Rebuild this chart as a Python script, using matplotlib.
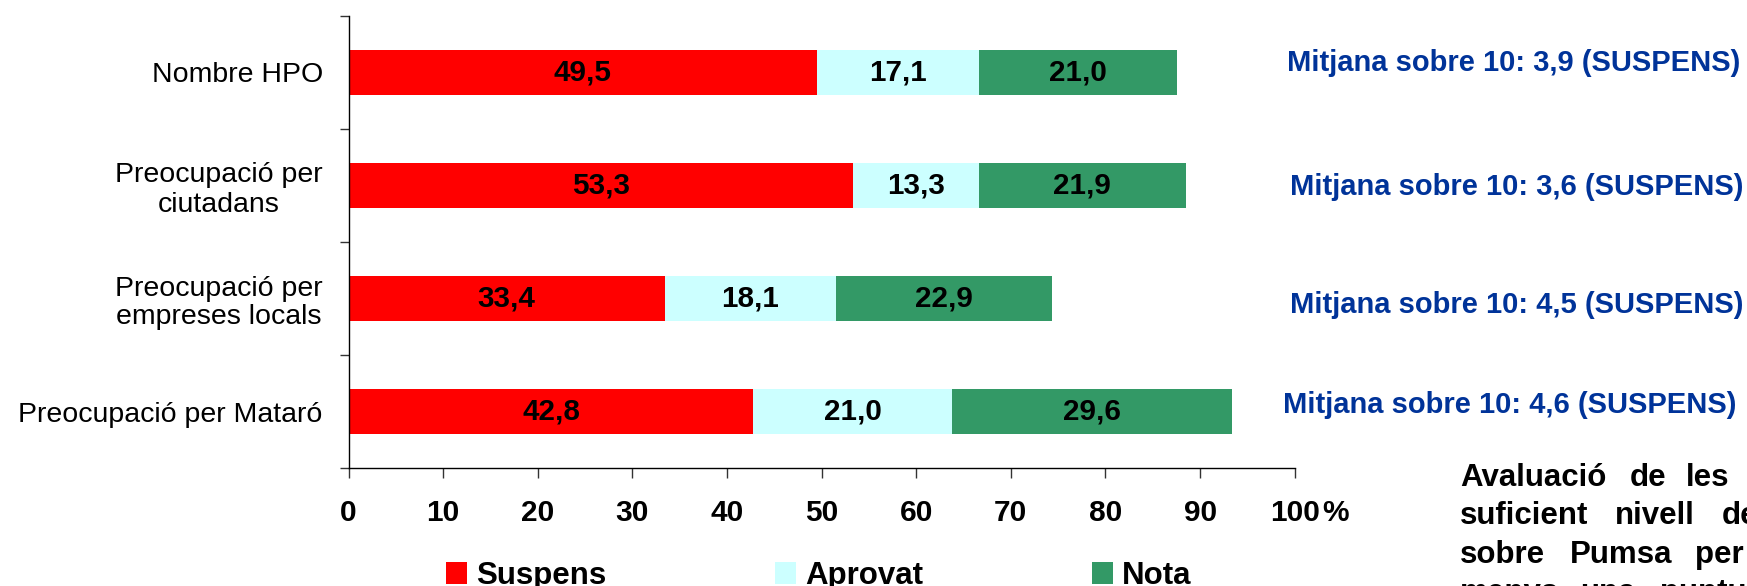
import numpy as np
import matplotlib
matplotlib.use("Agg")
import matplotlib.pyplot as plt

plt.rcParams['font.family'] = ['Liberation Sans', 'DejaVu Sans']

# --- data -------------------------------------------------------------
categories = ['Nombre HPO',
              'Preocupació per\nciutadans',
              'Preocupació per\nempreses locals',
              'Preocupació per Mataró']
suspens = [49.5, 53.3, 33.4, 42.8]
aprovat = [17.1, 13.3, 18.1, 21.0]
nota = [21.0, 21.9, 22.9, 29.6]
series_names = ['Suspens', 'Aprovat', 'Nota']
mitjana = ['3,9', '3,6', '4,5', '4,6']
x_ticks = [0, 10, 20, 30, 40, 50, 60, 70, 80, 90, 100]

note_lines = [['Avaluació', 'de', 'les'],
              ['suficient', 'nivell', 'de'],
              ['sobre', 'Pumsa', 'per'],
              ['menys', 'una', 'puntuació']]

# --- styling ------------------------------------------------------------
colors = ['#FF0000', '#CCFFFF', '#339966']
W, H = 1747, 586
BLUE = '#003399'
TICK_LEN = 7.2
TICK_PAD = 15.2
TICK_FS = 21.5


def fx(px):
    return px / W


def fy(py):
    return 1 - py / H


fig = plt.figure(figsize=(W / 100, H / 100), dpi=100)
ax = fig.add_axes([fx(348.5), fy(468), 946.2 / W, 452 / H])

y = np.arange(len(categories))
left = np.zeros(len(categories))
handles = []
for vals, color, name in zip([suspens, aprovat, nota], colors, series_names):
    vals = np.asarray(vals)
    bars = ax.barh(y, vals, left=left, height=0.4, color=color,
                   edgecolor='none', label=name)
    ax.bar_label(bars, labels=[f'{v:.1f}'.replace('.', ',') for v in vals],
                 label_type='center', fontsize=21.3, fontweight='bold',
                 color='black')
    handles.append(bars)
    left = left + vals

ax.set_xlim(0, 100)
ax.set_ylim(len(categories) - 0.5, -0.5)

ax.set_xticks(x_ticks)
ax.set_xticklabels([str(t) for t in x_ticks], fontsize=TICK_FS,
                   fontweight='bold')
ax.tick_params(axis='x', length=TICK_LEN, width=1, direction='out',
               pad=TICK_PAD, color='#333333')

ax.set_yticks(y)
ax.set_yticklabels(categories, fontsize=20.5, multialignment='center',
                   linespacing=1.15)
ax.set_yticks(np.arange(-0.5, len(categories)), minor=True)
ax.tick_params(axis='y', which='major', length=0, pad=18.5)
ax.tick_params(axis='y', which='minor', length=6.5, width=1, color='#333333')

for s in ['top', 'right']:
    ax.spines[s].set_visible(False)
for s in ['left', 'bottom']:
    ax.spines[s].set_color('black')
    ax.spines[s].set_linewidth(1.0)

# percent sign after the last tick label, on the tick-label line
trans, va, ha = ax.get_xaxis_text1_transform(TICK_PAD + TICK_LEN)
ax.text(102.9, 0, '%', transform=trans, va=va, ha='left',
        fontsize=TICK_FS, fontweight='bold')

# legend
leg = ax.legend(handles=handles, labels=series_names, ncol=3,
                loc='center left', bbox_to_anchor=(fx(446), fy(576)),
                bbox_transform=fig.transFigure, frameon=False,
                prop={'size': 22.5, 'weight': 'bold'},
                handlelength=0.67, handleheight=0.67, handletextpad=0.29,
                columnspacing=5.4, borderpad=0, borderaxespad=0)

# average grade per item
mit_x = [1287, 1290, 1290, 1283]
mit_base = [71, 195, 313.3, 413.3]
for val, xx, yy in zip(mitjana, mit_x, mit_base):
    fig.text(fx(xx), fy(yy), f'Mitjana sobre 10: {val} (SUSPENS)',
             color=BLUE, fontsize=21, fontweight='bold', va='baseline',
             ha='left')

# justified note paragraph at the lower right
word_x = [[1460, 1630, 1686],
          [1460, 1615, 1721.7],
          [1460, 1570, 1695],
          [1460, 1580, 1660]]
base0, step = 486, 38.5
for i, (words, xs) in enumerate(zip(note_lines, word_x)):
    for w, xx in zip(words, xs):
        fig.text(fx(xx), fy(base0 + i * step), w, fontsize=22.5,
                 fontweight='bold', va='baseline', ha='left', color='black')

fig.savefig('out.png', dpi=100)
